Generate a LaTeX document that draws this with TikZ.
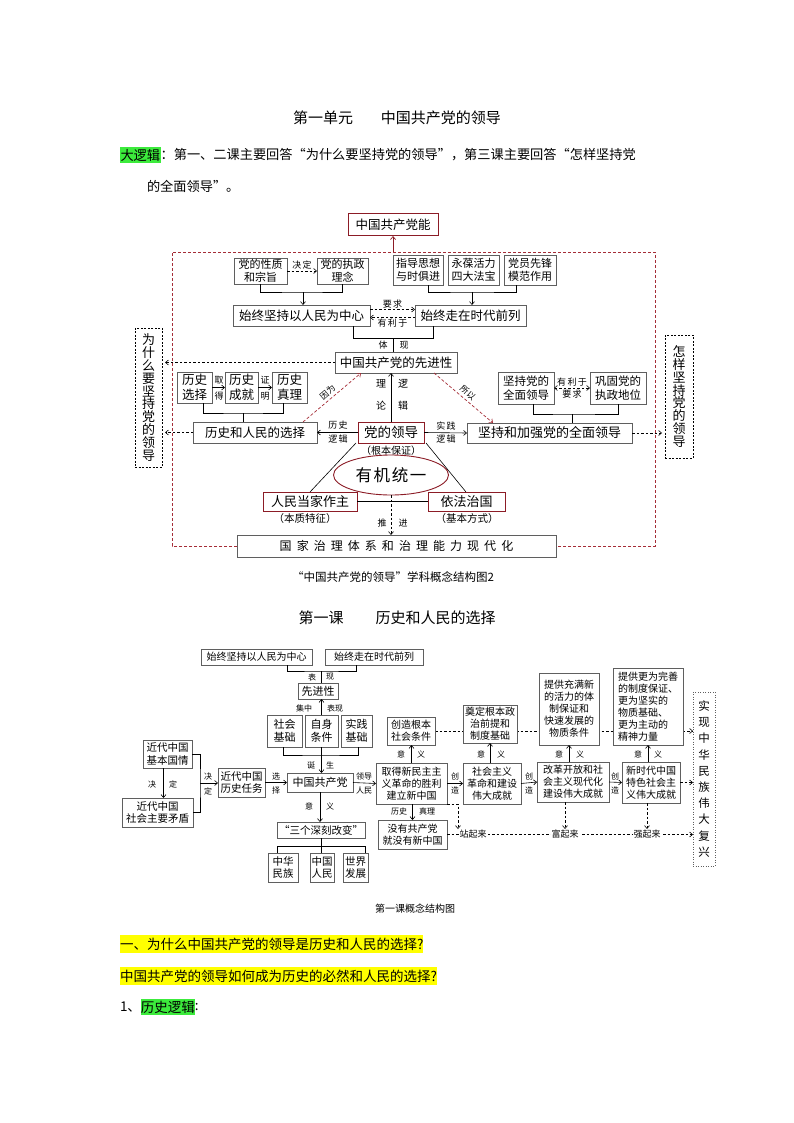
\documentclass[tikz,border=0pt]{standalone}
\usepackage{fontspec}
\setmainfont{Noto Sans CJK SC}
\usetikzlibrary{arrows.meta,shapes.geometric}
\pgfdeclarelayer{bgl}
\pgfsetlayers{bgl,main}
\definecolor{dred}{RGB}{140,28,38}
\definecolor{rdash}{RGB}{165,45,55}
\definecolor{bgrey}{RGB}{95,95,95}
\definecolor{hlgreen}{RGB}{60,235,60}
\definecolor{hlyellow}{RGB}{255,255,0}
\newcommand\fsz[2]{\fontsize{#1}{#2}\selectfont}
\newcommand\bx[7][]{\node[#1,minimum width={(#4-#2)*1pt},minimum height={(#5-#3)*1pt}] (#6) at ({(#2+#4)/2},{(#3+#5)/2}) {#7};}
\begin{document}
\begin{tikzpicture}[x=1pt,y=-1pt,
  every node/.style={inner sep=0pt,outer sep=0pt},
  >={Straight Barb[length=3pt,width=5pt]},
  gb/.style={draw=bgrey,fill=white,line width=0.7pt,align=center,font=\fsz{11}{13}},
  rb/.style={draw=dred,fill=white,line width=1pt,align=center,font=\fsz{13}{15}},
  vb/.style={draw=black,line width=0.7pt,dash pattern=on 2pt off 1.5pt,align=center,font=\fsz{13}{12.9}},
  vbb/.style={draw=bgrey,line width=0.6pt,dash pattern=on 1pt off 1.5pt,align=center,font=\fsz{11.5}{16.2}},
  g2/.style={draw=bgrey,fill=white,line width=0.6pt,align=center,font=\fsz{10}{12}},
  lb/.style={font=\fsz{9}{10}\addfontfeature{LetterSpace=15}},
  lbr/.style={font=\fsz{8.5}{9}},
  lbb/.style={font=\fsz{10}{11}},
  lt/.style={font=\fsz{8}{9}},
  ln/.style={line width=0.6pt},
  ar/.style={->,line width=0.6pt},
  dsh/.style={line width=0.6pt,dash pattern=on 2.5pt off 2pt},
  rd/.style={draw=rdash,line width=0.7pt,dash pattern=on 3pt off 2pt}]
\begin{pgfonlayer}{bgl}
\fill[white] (0,0) rectangle (794,1123);
\end{pgfonlayer}
\useasboundingbox (0,0) rectangle (794,1123);

% ---------- header ----------
\node[font=\fsz{15}{18}] (t1) at (397,118) {第一单元\hspace{28pt}中国共产党的领导};
\node[fill=hlgreen,inner xsep=0.5pt,inner ysep=2pt,anchor=west,font=\fsz{13.2}{16}] (dlj) at (120,155) {大逻辑};
\node[anchor=west,font=\fsz{13.2}{16}] (l2) at (dlj.east) {：第一、二课主要回答“为什么要坚持党的领导”，第三课主要回答“怎样坚持党};
\node[anchor=west,font=\fsz{13.2}{16}] (l3) at (147,186) {的全面领导”。};

% ---------- diagram 1 ----------
\bx[rb,font=\fsz{12.5}{14}]{348}{214}{438}{236}{cpcn}{中国共产党能}
\bx[gb]{234}{258}{287}{284}{xz}{党的性质\\和宗旨}
\bx[gb]{317}{258}{368}{284}{zz}{党的执政\\理念}
\bx[gb]{393}{255}{443}{285}{zd}{指导思想\\与时俱进}
\bx[gb]{448}{255}{499}{285}{yb}{永葆活力\\四大法宝}
\bx[gb]{504}{255}{556}{285}{dy}{党员先锋\\模范作用}
\bx[gb,font=\fsz{12.5}{14}]{233}{305}{370}{326}{rm}{始终坚持以人民为中心}
\bx[gb,font=\fsz{12.5}{14}]{415}{305}{526}{326}{sd}{始终走在时代前列}
\bx[gb,font=\fsz{12.5}{14}]{335}{352}{457}{373}{adv}{中国共产党的先进性}
\bx[vb]{135}{328}{162}{467}{why}{为\\什\\么\\要\\坚\\持\\党\\的\\领\\导}
\bx[vb]{665}{335}{693}{458}{how}{怎\\样\\坚\\持\\党\\的\\领\\导}
\bx[gb,font=\fsz{12.5}{14.5}]{177}{372}{212}{403}{lsxz}{历史\\选择}
\bx[gb,font=\fsz{12.5}{14.5}]{225}{372}{258}{403}{lscj}{历史\\成就}
\bx[gb,font=\fsz{12.5}{14.5}]{272}{372}{307}{403}{lszl}{历史\\真理}
\bx[gb,font=\fsz{12.5}{14}]{193}{422}{317}{443}{hsrm}{历史和人民的选择}
\bx[rb,font=\fsz{13.5}{15}]{358}{422}{424}{443}{ld}{党的领导}
\bx[gb,font=\fsz{13}{14}]{467}{423}{632}{443}{jcjq}{坚持和加强党的全面领导}
\bx[gb,font=\fsz{11.5}{14.5}]{498}{372}{554}{404}{jcq}{坚持党的\\全面领导}
\bx[gb,font=\fsz{11.5}{14.5}]{590}{372}{646}{404}{ggd}{巩固党的\\执政地位}
\bx[rb]{263}{492}{357}{511}{rmdz}{人民当家作主}
\bx[rb]{428}{492}{505}{511}{yf}{依法治国}
\bx[gb,font=\fsz{12}{14}\addfontfeature{LetterSpace=42}]{237}{535}{556}{557}{gov}{国家治理体系和治理能力现代化}
\node[font=\fsz{10}{12}] (gbbz) at (391,451) {（根本保证）};
\node[font=\fsz{10.5}{12}] (bztz) at (305,519) {（本质特征）};
\node[font=\fsz{10.5}{12}] (jbfs) at (467,519) {（基本方式）};

% red frame
\coordinate (ft) at (393,252);
\draw[rd] (gov.west) -| (172,252) -- (655,252) |- (gov.east);
\draw[->,draw=dred,line width=0.7pt] (ft) -- (cpcn.south);

% top brackets
\coordinate (b1) at (303,292);
\draw[ln] (xz.south) |- (b1) -| (zz.south);
\draw[ar] (b1) -- (b1 |- rm.north);
\coordinate (b2) at (472,292);
\draw[ln] ([xshift=10pt]zd.south) |- (b2) -| ([xshift=-14pt]dy.south);
\draw[ar] (b2) -- (b2 |- sd.north);
\draw[dsh,->] (xz) -- (zz) node[lb,midway,above=2pt] (jd1) {决定};
\draw[dsh,->] ([yshift=6pt]rm.east) -- ([yshift=6pt]sd.west) node[lb,midway,above=1pt] (yq1) {要求};
\draw[dsh,->] ([yshift=-2pt]sd.west) -- ([yshift=-2pt]rm.east) node[lb,midway,below=1pt] (ylx1) {有利于};

% tixian junction
\coordinate (tl) at (353,338);
\coordinate (tr) at (433,338);
\coordinate (tx) at (393,338);
\draw[ln] (rm.south -| tl) -- (tl) -- (tr) -- (sd.south -| tr);
\draw[ln] (tx) -- (tx |- adv.north);
\node[lb] (tx1) at (383,345) {体};
\node[lb] (tx2) at (404,345) {现};

% left side
\draw[dsh,->,shorten >=3pt] (adv.west) -- (adv.west -| why.east);
\draw[dsh,->,shorten >=3pt] (hsrm.west) -- (hsrm.west -| why.east);
\draw[ar] (lsxz) -- (lscj);
\draw[ar] (lscj) -- (lszl);
\node[lb] (qd1) at (219,380) {取};
\node[lb] (qd2) at (219,396) {得};
\node[lb] (zm1) at (265,380) {证};
\node[lb] (zm2) at (265,396) {明};
\coordinate (hb) at (243,413);
\draw[ln] ([xshift=8.5pt]lsxz.south) |- (hb) -| ([xshift=-6.5pt]lszl.south);
\draw[ln] (hb) -- (hb |- hsrm.north);

% party leadership arrows
\draw[ar] (ld.west) -- (hsrm.east);
\node[lb] (lsl1) at (338,425) {历史};
\node[lb] (lsl2) at (338,439) {逻辑};
\draw[ar] (ld.north) -- (ld.north |- adv.south);
\node[lbb] (ll1) at (381,384) {理};
\node[lbb] (ll2) at (381,406) {论};
\node[lbb] (lj1) at (403,384) {逻};
\node[lbb] (lj2) at (403,406) {辑};
\draw[ar] (ld.east) -- (jcjq.west);
\node[lb] (sj1) at (446,426) {实践};
\node[lb] (sj2) at (446,439) {逻辑};
\draw[rd,->] ([xshift=-14pt]hsrm.north east) -- ([xshift=26pt]adv.south west) node[lbr,pos=0.5,sloped,above=3pt] (yw) {因为};
\draw[rd,->] ([xshift=-23pt]adv.south east) -- ([xshift=26pt]jcjq.north west) node[lbr,pos=0.5,sloped,above=3pt] (sy) {所以};

% right side
\draw[dsh,->,shorten >=3pt] (jcjq.east) -- (jcjq.east -| how.west);
\draw[dsh,<->] (jcq) -- (ggd) node[lb,midway,above=2pt] (ylx2) {有利于} node[lb,midway,below=2pt] (yq2) {要求};
\coordinate (jb) at (572,414);
\draw[ln] ([xshift=7pt]jcq.south) |- (jb) -| (ggd.south);
\draw[ln] (jb) -- (jb |- jcjq.north);

% triangle
\draw[ln] ([xshift=-2pt]ld.south west) -- ([xshift=47pt]rmdz.north west);
\draw[ln] ([xshift=2pt]ld.south east) -- ([xshift=38pt]yf.north west);
\draw[ln] (rmdz) -- (yf);
\node[ellipse,draw=dred,line width=0.9pt,fill=white,minimum width=115pt,minimum height=40pt,font=\fsz{16.5}{18}\addfontfeature{LetterSpace=10}] (yjty) at (391,475) {有机统一};
\draw[dsh,->] (yjty.south) -- (yjty.south |- gov.north);
\node[lb] (tj1) at (382,523) {推};
\node[lb] (tj2) at (403,523) {进};

\node[font=\fsz{11.5}{13}] (cap1) at (393,577) {“中国共产党的领导”学科概念结构图2};

% ---------- diagram 2 ----------
\node[font=\fsz{15}{18}] (t2) at (397,618) {第一课\hspace{32pt}历史和人民的选择};

\bx[g2]{201}{649}{312}{665}{rm2}{始终坚持以人民为中心}
\bx[g2]{325}{649}{423}{665}{sd2}{始终走在时代前列}
\bx[g2,font=\fsz{11}{13}]{298}{683}{338}{699}{xjx}{先进性}
\bx[g2,font=\fsz{11}{13}]{267}{715}{302}{747}{shjc}{社会\\基础}
\bx[g2,font=\fsz{11}{13}]{305}{715}{338}{747}{zstj}{自身\\条件}
\bx[g2,font=\fsz{11}{13}]{341}{715}{372}{747}{sjjc}{实践\\基础}
\bx[g2,font=\fsz{10.5}{12.5}]{143}{740}{192}{768}{jbgq}{近代中国\\基本国情}
\bx[g2,font=\fsz{10.5}{12.5}]{122}{798}{193}{827}{zymd}{近代中国\\社会主要矛盾}
\bx[g2,font=\fsz{10.5}{12.5}]{218}{768}{265}{797}{lsrw}{近代中国\\历史任务}
\bx[g2,font=\fsz{11}{13}]{287}{773}{353}{792}{zggcd}{中国共产党}
\bx[g2]{376}{763}{447}{804}{qd}{取得新民主主\\义革命的胜利\\建立新中国}
\bx[g2,font=\fsz{10.5}{13}]{277}{822}{365}{838}{sgsk}{“三个深刻改变”}
\bx[g2,font=\fsz{10.5}{12.5}]{268}{853}{298}{882}{zhmz}{中华\\民族}
\bx[g2,font=\fsz{10.5}{12.5}]{310}{853}{334}{882}{zgrm}{中国\\人民}
\bx[g2,font=\fsz{10.5}{12.5}]{343}{853}{368}{882}{sjfz}{世界\\发展}
\bx[g2]{387}{717}{435}{745}{cz}{创造根本\\社会条件}
\bx[g2]{463}{705}{517}{743}{dd}{奠定根本政\\治前提和\\制度基础}
\bx[g2]{463}{763}{521}{804}{shzy}{社会主义\\革命和建设\\伟大成就}
\bx[g2]{539}{673}{599}{745}{tg}{提供充满新\\的活力的体\\制保证和\\快速发展的\\物质条件}
\bx[g2]{537}{762}{609}{802}{ggkf}{改革开放和社\\会主义现代化\\建设伟大成就}
\bx[g2,align=left]{613}{668}{683}{745}{tg2}{提供更为完善\\的制度保证、\\更为坚实的\\物质基础、\\更为主动的\\精神力量}
\bx[g2]{622}{762}{680}{803}{xsd}{新时代中国\\特色社会主\\义伟大成就}
\bx[vbb]{693}{692}{715}{866}{ssxz}{实\\现\\中\\华\\民\\族\\伟\\大\\复\\兴}
\bx[g2]{378}{820}{447}{849}{mygcd}{没有共产党\\就没有新中国}

% top part
\coordinate (xb) at (321,671);
\draw[ln] ([xshift=30.5pt]rm2.south) |- (xb) -| ([xshift=-18pt]sd2.south);
\draw[ln] (xb) -- (xb |- xjx.north);
\node[lt] (bx1) at (312,677) {表};
\node[lt] (bx2) at (330,677) {现};
\draw[ar] (zstj.north) -- (zstj.north |- xjx.south);
\node[lt] (jz) at (304,708) {集中};
\node[lt] (bx3) at (335,708) {表现};
\coordinate (sb) at (321,755);
\draw[ln] ([xshift=-1.5pt]shjc.south) |- (sb) -| ([xshift=1.5pt]sjjc.south);
\draw[ar] (zstj.south) -- (zstj.south |- zggcd.north);
\node[lt] (ds1) at (311,765) {诞};
\node[lt] (ds2) at (330,765) {生};

% left part
\draw[ar] ([xshift=-4pt]jbgq.south) -- ([xshift=-4pt]jbgq.south |- zymd.north);
\node[lt] (jd2) at (152,784) {决};
\node[lt] (jd3) at (173,784) {定};
\coordinate (jb2) at (200,783);
\draw[ln] (jbgq.east) -| (jb2) |- (zymd.east);
\draw[ar] (jb2) -- (jb2 -| lsrw.west);
\node[lt] (jd4) at (208,776) {决};
\node[lt] (jd5) at (208,791) {定};
\draw[ar] (lsrw.east) -- (zggcd.west);
\node[lt] (xz1) at (276,776) {选};
\node[lt] (xz2) at (276,790) {择};
\draw[ar] (zggcd.east) -- (qd.west);
\node[lt] (ldr) at (364,776) {领导};
\node[lt] (rmn) at (364,790) {人民};
\draw[ar] (zggcd.south) -- (zggcd.south |- sgsk.north);
\node[lt] (yy1) at (309,806) {意};
\node[lt] (yy2) at (330,806) {义};
\coordinate (sgb) at (321,846);
\draw[ln] (sgsk.south) -- (sgb);
\draw[ln] ([xshift=-6pt]zhmz.north) |- (sgb) -| ([xshift=9.5pt]sjfz.north);
\draw[ln] (sgb) -- (sgb |- zgrm.north);

% right part
\begin{pgfonlayer}{bgl}
\draw[dsh,->] (cz.east) -- (cz.east -| ssxz.west);
\end{pgfonlayer}
\draw[ar] (qd.north) -- (qd.north |- cz.south);
\node[lt] (yy3) at (401,754) {意};
\node[lt] (yy4) at (421,754) {义};
\draw[ar] (qd.east) -- (shzy.west);
\node[lt] (cz1) at (455,776) {创};
\node[lt] (cz2) at (455,790) {造};
\draw[ar] (dd.south |- shzy.north) -- (dd.south);
\node[lt] (yy5) at (481,754) {意};
\node[lt] (yy6) at (501,754) {义};
\draw[ar] (shzy.east) -- (ggkf.west);
\node[lt] (cz3) at (529,776) {创};
\node[lt] (cz4) at (529,790) {造};
\draw[ar] (tg.south |- ggkf.north) -- (tg.south);
\node[lt] (yy7) at (559,754) {意};
\node[lt] (yy8) at (580,754) {义};
\draw[ar] (ggkf.east) -- (xsd.west);
\node[lt] (cz5) at (615,776) {创};
\node[lt] (cz6) at (615,790) {造};
\draw[ar] (tg2.south |- xsd.north) -- (tg2.south);
\node[lt] (yy9) at (638,754) {意};
\node[lt] (yy10) at (658,754) {义};
\draw[dsh,->] (xsd.east) -- (xsd.east -| ssxz.west);

% bottom part
\draw[ar] ([xshift=1pt]qd.south) -- ([xshift=1pt]qd.south |- mygcd.north);
\node[lt] (ls2) at (399,811) {历史};
\node[lt] (zl2) at (427,811) {真理};
\draw[dsh,->] (mygcd.east) -- (mygcd.east -| ssxz.west);
\coordinate (zq) at (458,829);
\draw[dsh,->] (qd.south east) -| (zq);
\draw[dsh,->] ([xshift=-8pt]ggkf.south) -- ([xshift=-8pt]ggkf.south |- zq);
\draw[dsh,->] ([xshift=-4pt]xsd.south) -- ([xshift=-4pt]xsd.south |- zq);
\node[lt,fill=white,inner xsep=1pt,font=\fsz{9}{10}] (zqL) at (473,834) {站起来};
\node[lt,fill=white,inner xsep=1pt,font=\fsz{9}{10}] (fqL) at (565,834) {富起来};
\node[lt,fill=white,inner xsep=1pt,font=\fsz{9}{10}] (qqL) at (647,834) {强起来};

\node[font=\fsz{10}{12}] (cap2) at (415,909) {第一课概念结构图};

% ---------- bottom text ----------
\node[fill=hlyellow,anchor=west,inner xsep=0pt,inner ysep=3pt,font=\fsz{13.5}{16}] (q1) at (120,944) {一、为什么中国共产党的领导是历史和人民的选择?};
\node[fill=hlyellow,anchor=west,inner xsep=0pt,inner ysep=3pt,font=\fsz{13.5}{16}] (q2) at (120,976) {中国共产党的领导如何成为历史的必然和人民的选择?};
\node[anchor=west,font=\fsz{13.5}{16}] (n1) at (120,1007) {1、};
\node[fill=hlgreen,anchor=west,inner xsep=0pt,inner ysep=2pt,font=\fsz{13.5}{16}] (lslj) at (n1.east) {历史逻辑};
\node[anchor=west,font=\fsz{13.5}{16}] (cln) at (lslj.east) {:};
\end{tikzpicture}
\end{document}
